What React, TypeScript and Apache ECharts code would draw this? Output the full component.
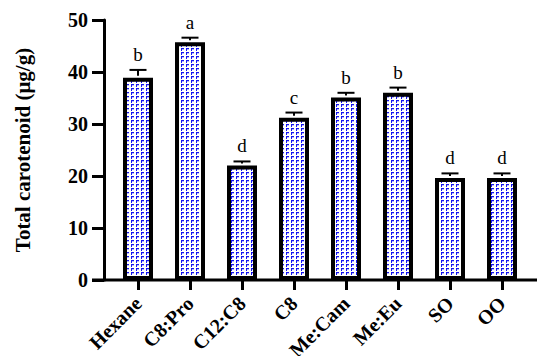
import React, { useEffect, useRef } from "react";
import * as echarts from "echarts";

const categories = ["Hexane", "C8:Pro", "C12:C8", "C8", "Me:Cam", "Me:Eu", "SO", "OO"];
const means = [38.9, 45.7, 22.0, 31.2, 35.1, 36.0, 19.6, 19.6];
const errTops = [40.4, 46.6, 22.8, 32.2, 36.0, 37.0, 20.5, 20.5];
const letters = ["b", "a", "d", "c", "b", "b", "d", "d"];
const yMin = 0;
const yMax = 50;
const yStep = 10;
const yTitle = "Total carotenoid (μg/g)";

const FONT = '"Times New Roman", "Liberation Serif", "DejaVu Serif", serif';

function makePattern(): HTMLCanvasElement {
  const c = document.createElement("canvas");
  c.width = 5;
  c.height = 4;
  const ctx = c.getContext("2d")!;
  ctx.fillStyle = "#ffffff";
  ctx.fillRect(0, 0, 5, 4);
  ctx.fillStyle = "#b8b8f8";
  ctx.fillRect(2, 1, 2, 1);
  ctx.fillStyle = "#1414f0";
  ctx.fillRect(1, 0, 3, 1);
  ctx.fillRect(1, 0, 1, 3);
  return c;
}

export default function App() {
  const ref = useRef<HTMLDivElement>(null);
  useEffect(() => {
    if (!ref.current) return;
    const chart = echarts.init(ref.current, null, { renderer: "svg" });
    const pattern = makePattern();
    chart.setOption({
      animation: false,
      backgroundColor: "#ffffff",
      grid: {
        left: 112,
        right: 9,
        top: 20,
        bottom: 76,
        containLabel: false,
        outerBoundsMode: "none",
      } as any,
      xAxis: {
        type: "category",
        data: categories,
        axisLine: { show: false },
        axisTick: {
          show: true,
          alignWithLabel: true,
          length: 10,
          lineStyle: { color: "#000", width: 3 },
        },
        axisLabel: {
          interval: 0,
          rotate: 45,
          margin: 20,
          fontSize: 20,
          fontWeight: "bold",
          fontFamily: FONT,
          color: "#000",
        },
        splitLine: { show: false },
      },
      yAxis: {
        type: "value",
        min: yMin,
        max: yMax,
        interval: yStep,
        offset: 8,
        name: yTitle,
        nameLocation: "middle",
        nameGap: 71,
        nameTextStyle: { fontSize: 21, fontWeight: "bold", fontFamily: FONT, color: "#000" },
        axisLine: { show: true, lineStyle: { color: "#000", width: 3 } },
        axisTick: { show: true, length: 12, lineStyle: { color: "#000", width: 3 } },
        axisLabel: { margin: 16, fontSize: 20, fontWeight: "bold", fontFamily: FONT, color: "#000" },
        splitLine: { show: false },
      },
      graphic: [
        {
          type: "line",
          shape: { x1: 92, y1: 280, x2: 537, y2: 280 },
          style: { stroke: "#000", lineWidth: 3 },
          z: 10,
        },
      ],
      series: [
        {
          type: "bar",
          data: means,
          barWidth: 30,
          itemStyle: {
            color: { image: pattern, repeat: "repeat", imageWidth: 5, imageHeight: 4 } as any,
            borderColor: "#000",
            borderWidth: 4,
          },
          z: 2,
        },
        {
          type: "custom",
          data: categories.map((_, i) => [i, means[i], errTops[i]]),
          encode: { x: 0, y: [1, 2] },
          z: 3,
          renderItem: (params: any, api: any) => {
            const i = api.value(0);
            const p0 = api.coord([i, api.value(1)]);
            const p1 = api.coord([i, api.value(2)]);
            const half = 8.5;
            return {
              type: "group",
              children: [
                {
                  type: "line",
                  shape: { x1: p0[0], y1: p0[1] - 2, x2: p1[0], y2: p1[1] },
                  style: { stroke: "#000", lineWidth: 2 },
                },
                {
                  type: "line",
                  shape: { x1: p1[0] - half, y1: p1[1], x2: p1[0] + half, y2: p1[1] },
                  style: { stroke: "#000", lineWidth: 2 },
                },
                {
                  type: "text",
                  x: p1[0],
                  y: p1[1] - 6,
                  style: {
                    text: letters[i],
                    fontSize: 19,
                    fontFamily: FONT,
                    fill: "#000",
                    textAlign: "center",
                    textVerticalAlign: "bottom",
                  },
                },
              ],
            };
          },
        },
      ],
    });
    return () => chart.dispose();
  }, []);
  return (
    <div
      ref={ref}
      style={{ position: "absolute", left: 0, top: 0, width: 537, height: 356 }}
    />
  );
}
